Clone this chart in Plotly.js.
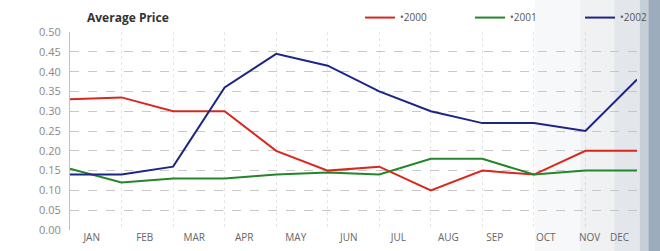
<!DOCTYPE html>
<html>
<head>
<meta charset="utf-8">
<script src="https://cdn.plot.ly/plotly-3.0.1.min.js"></script>
<style>html,body{margin:0;padding:0;background:#fff;}#chart{width:660px;height:251px;}</style>
</head>
<body>
<div id="chart"></div>
<script>
const months = ["JAN","FEB","MAR","APR","MAY","JUN","JUL","AUG","SEP","OCT","NOV","DEC"];
const idx = [0,1,2,3,4,5,6,7,8,9,10,11];
const price2000 = [0.33,0.335,0.30,0.30,0.20,0.15,0.16,0.10,0.15,0.14,0.20,0.20];
const price2001 = [0.155,0.12,0.13,0.13,0.14,0.145,0.14,0.18,0.18,0.14,0.15,0.15];
const price2002 = [0.14,0.14,0.16,0.36,0.445,0.415,0.35,0.30,0.27,0.27,0.25,0.38];
const yTicks = [0,0.05,0.10,0.15,0.20,0.25,0.30,0.35,0.40,0.45,0.50];
const labelPos = [0.42,1.45,2.41,3.38,4.38,5.41,6.37,7.34,8.24,9.23,10.08,10.66];

const font = "'Open Sans', 'DejaVu Sans', sans-serif";
const traces = [
  {x: idx, y: price2000, name: "•2000", mode: "lines", line: {color: "#d8281e", width: 2}},
  {x: idx, y: price2001, name: "•2001", mode: "lines", line: {color: "#23862a", width: 2}},
  {x: idx, y: price2002, name: "•2002", mode: "lines", line: {color: "#1d2585", width: 2}}
];

const shapes = [
  {type:"rect", xref:"paper", yref:"paper", x0:0.82, x1:0.9, y0:-0.2, y1:1.2, fillcolor:"rgba(190,198,205,0.12)", line:{width:0}, layer:"below"},
  {type:"rect", xref:"paper", yref:"paper", x0:0.9, x1:0.96, y0:-0.2, y1:1.2, fillcolor:"rgba(180,190,200,0.22)", line:{width:0}, layer:"below"},
  {type:"rect", xref:"paper", yref:"paper", x0:0.96, x1:1.005, y0:-0.2, y1:1.2, fillcolor:"rgba(170,182,195,0.33)", line:{width:0}, layer:"below"},
  {type:"rect", xref:"paper", yref:"paper", x0:1.005, x1:1.02, y0:-0.2, y1:1.2, fillcolor:"rgba(160,174,190,0.6)", line:{width:0}, layer:"below"},
  {type:"rect", xref:"paper", yref:"paper", x0:1.02, x1:1.05, y0:-0.2, y1:1.2, fillcolor:"rgba(140,158,178,0.85)", line:{width:0}, layer:"below"}
];

const layout = {
  width: 660, height: 251,
  margin: {l: 70, r: 23, t: 30, b: 21},
  paper_bgcolor: "#ffffff", plot_bgcolor: "rgba(0,0,0,0)",
  font: {family: font, color: "#777", size: 11},
  title: {text: "Average Price", font: {family: font, size: 12, color: "#333", weight: "bold"}, x: 87/660, xanchor: "left", xref: "container", y: 0.93, yref: "container", yanchor: "middle"},
  showlegend: true,
  legend: {orientation: "h", xref: "container", yref: "container", x: 360/660, xanchor: "left", y: 0.93, yanchor: "middle",
           entrywidth: 65, entrywidthmode: "pixels", font: {size: 10, color: "#555", family: font}, bgcolor: "rgba(0,0,0,0)", itemwidth: 30, tracegroupgap: 0},
  xaxis: {range: [0, 11], showgrid: false, zeroline: false, showline: false,
          tickmode: "array", tickvals: labelPos, ticktext: months, ticks: "", ticklen: 0,
          tickfont: {size: 10, color: "#666", family: font},
          minor: {tickmode: "array", tickvals: idx, showgrid: true, gridcolor: "rgba(170,170,170,0.3)", griddash: "dot", gridwidth: 1, ticks: ""},
          fixedrange: true},
  yaxis: {range: [0, 0.5], tickmode: "array", tickvals: yTicks, ticktext: yTicks.map(v => v.toFixed(2)),
          showgrid: true, gridcolor: "#c8c8c8", griddash: "dash", gridwidth: 1, zeroline: false,
          showline: true, linecolor: "#c0c0c0", linewidth: 1, ticks: "", ticklabelstandoff: 6,
          tickfont: {size: 11, color: "#888", family: font}, fixedrange: true},
  shapes: shapes
};

Plotly.newPlot("chart", traces, layout, {displayModeBar: false, staticPlot: true});
</script>
</body>
</html>
